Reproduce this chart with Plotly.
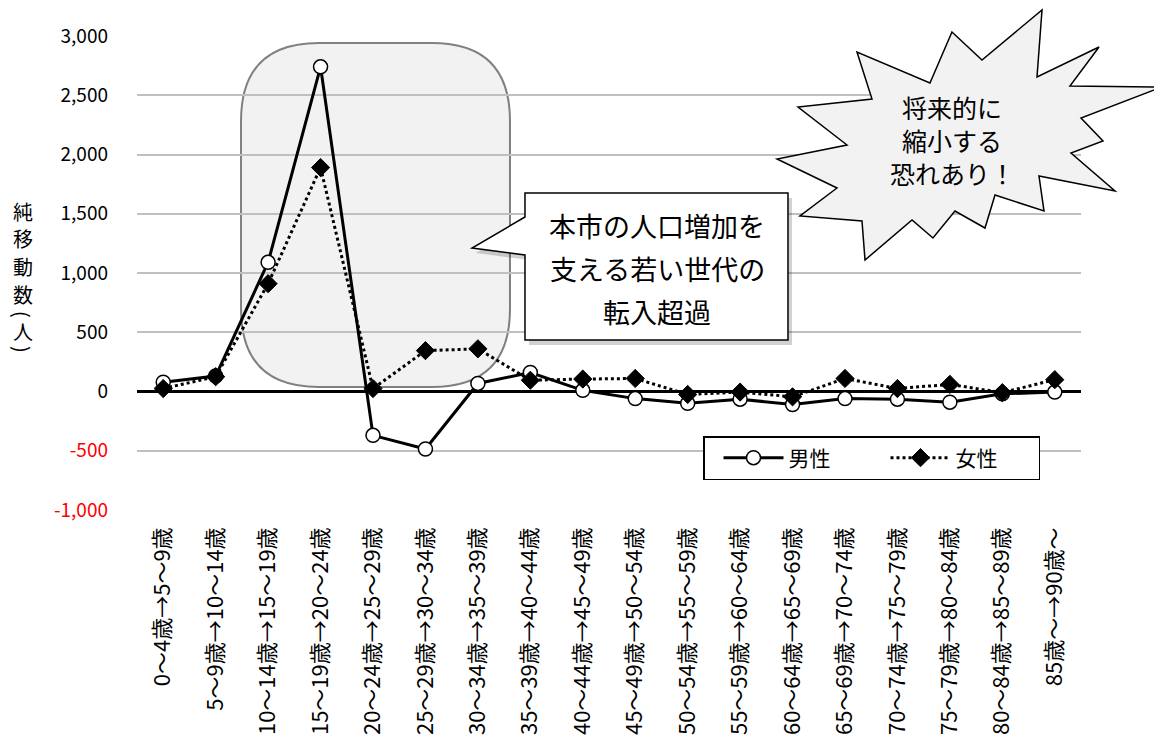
import plotly.graph_objects as go

FONT = "Noto Sans CJK JP"

# age cohorts (5-year shift)
categories = [
    "0～4歳→5～9歳", "5～9歳→10～14歳", "10～14歳→15～19歳", "15～19歳→20～24歳",
    "20～24歳→25～29歳", "25～29歳→30～34歳", "30～34歳→35～39歳", "35～39歳→40～44歳",
    "40～44歳→45～49歳", "45～49歳→50～54歳", "50～54歳→55～59歳", "55～59歳→60～64歳",
    "60～64歳→65～69歳", "65～69歳→70～74歳", "70～74歳→75～79歳", "75～79歳→80～84歳",
    "80～84歳→85～89歳", "85歳～→90歳～",
]
male = [78, 130, 1090, 2740, -370, -485, 68, 160, 10, -60, -100, -65, -110, -60, -65, -90, -20, -5]
female = [25, 125, 910, 1890, 25, 345, 360, 95, 105, 110, -25, -5, -45, 110, 25, 60, -10, 100]

y_ticks = [-1000, -500, 0, 500, 1000, 1500, 2000, 2500, 3000]
y_tick_text = ['<span style="color:#ff0000">-1,000</span>', '<span style="color:#ff0000">-500</span>',
               "0", "500", "1,000", "1,500", "2,000", "2,500", "3,000"]

# the page body has an 8px margin; positions below are screen pixels
OFF = 8
W, H = 1162 - OFF, 742 - OFF
# plot area in screen pixels: x 137..1081, y 36..510
L, R, T, B = 137, 1081, 36, 510


def px(x):
    return (x - L) / (R - L)


def py(y):
    return (B - y) / (B - T)


def poly_path(pts):
    return "M " + " L ".join(f"{px(x):.4f},{py(y):.4f}" for x, y in pts) + " Z"


def rounded_rect(x0, y0, x1, y1, r):
    p = lambda x, y: f"{px(x):.4f},{py(y):.4f}"
    return (f"M {p(x0 + r, y0)} L {p(x1 - r, y0)} Q {p(x1, y0)} {p(x1, y0 + r)} "
            f"L {p(x1, y1 - r)} Q {p(x1, y1)} {p(x1 - r, y1)} "
            f"L {p(x0 + r, y1)} Q {p(x0, y1)} {p(x0, y1 - r)} "
            f"L {p(x0, y0 + r)} Q {p(x0, y0)} {p(x0 + r, y0)} Z")


fig = go.Figure()
fig.add_trace(go.Scatter(
    x=categories, y=male, name="男性", mode="lines+markers",
    line=dict(color="black", width=3),
    marker=dict(symbol="circle", size=14, color="white", line=dict(color="black", width=1.5)),
))
fig.add_trace(go.Scatter(
    x=categories, y=female, name="女性", mode="lines+markers",
    line=dict(color="black", width=3, dash="dot"),
    marker=dict(symbol="diamond", size=14, color="black", line=dict(color="black", width=1)),
))

callout = [(525, 193), (788, 193), (788, 340), (525, 340), (525, 255), (472, 248), (525, 217)]
callout_shadow = [(x + 4, y + 5) for x, y in callout]
star = [(952, 32), (982, 60), (1042, 10), (1037, 77), (1099, 47), (1070, 86), (1162, 87),
        (1081, 118), (1103, 141), (1071, 153), (1115, 191), (1039, 176), (1044, 211),
        (995, 195), (985, 228), (955, 211), (933, 238), (912, 220), (865, 260), (862, 221),
        (800, 216), (837, 188), (777, 159), (847, 145), (798, 107), (872, 99), (857, 52),
        (930, 83)]

shapes = [
    dict(type="path", xref="paper", yref="paper", layer="below",
         path=rounded_rect(241, 43, 510, 387, 78),
         fillcolor="#f2f2f2", line=dict(color="#808080", width=2)),
    dict(type="path", xref="paper", yref="paper", layer="above",
         path=poly_path(callout_shadow), fillcolor="rgba(0,0,0,0.18)", line=dict(width=0)),
    dict(type="path", xref="paper", yref="paper", layer="above",
         path=poly_path(callout), fillcolor="white", line=dict(color="black", width=1.5)),
    dict(type="path", xref="paper", yref="paper", layer="above",
         path=poly_path(star), fillcolor="#f2f2f2", line=dict(color="black", width=1.5)),
]

annotations = []
for text, y in [("本市の人口増加を", 225), ("支える若い世代の", 268), ("転入超過", 311)]:
    annotations.append(dict(xref="paper", yref="paper", x=px(657), y=py(y), text=text,
                            showarrow=False, font=dict(family=FONT, size=27, color="black"),
                            xanchor="center", yanchor="middle"))
for text, y in [("将来的に", 107), ("縮小する", 140), ("恐れあり！", 173)]:
    annotations.append(dict(xref="paper", yref="paper", x=px(952), y=py(y), text=text,
                            showarrow=False, font=dict(family=FONT, size=25, color="black"),
                            xanchor="center", yanchor="middle"))
# vertical y-axis title, one character per annotation (brackets turned sideways)
for ch, y, ang in [("純", 211, 0), ("移", 238, 0), ("動", 266, 0), ("数", 294, 0),
                   ("(", 314, 90), ("人", 331, 0), (")", 349, 90)]:
    annotations.append(dict(xref="paper", yref="paper", x=px(23), y=py(y), text=ch,
                            textangle=ang, showarrow=False,
                            font=dict(family=FONT, size=20, color="black"),
                            xanchor="center", yanchor="middle"))

fig.update_layout(
    width=W, height=H,
    margin=dict(l=L - OFF, r=1162 - R, t=T - OFF, b=742 - B),
    paper_bgcolor="white", plot_bgcolor="white",
    font=dict(family=FONT, color="black"),
    showlegend=True,
    legend=dict(orientation="h", x=px(703), y=py(436), xanchor="left", yanchor="top",
                bgcolor="white", bordercolor="black", borderwidth=1.5,
                font=dict(family=FONT, size=21), itemwidth=60, entrywidth=78,
                indentation=14, traceorder="normal"),
    xaxis=dict(type="category", range=[-0.5, len(categories) - 0.5],
               showgrid=False, showline=False, ticks="",
               tickangle=-90, tickfont=dict(family=FONT, size=22),
               ticklabelstandoff=12, automargin=False),
    yaxis=dict(range=[-1000, 3000], tickvals=y_ticks, ticktext=y_tick_text,
               showgrid=True, gridcolor="#c0c0c0", gridwidth=1.5,
               zeroline=True, zerolinecolor="black", zerolinewidth=3,
               showline=False, ticks="", tickfont=dict(family=FONT, size=19),
               ticklabelstandoff=28, automargin=False),
    shapes=shapes,
    annotations=annotations,
)

fig.write_html("out.html")
